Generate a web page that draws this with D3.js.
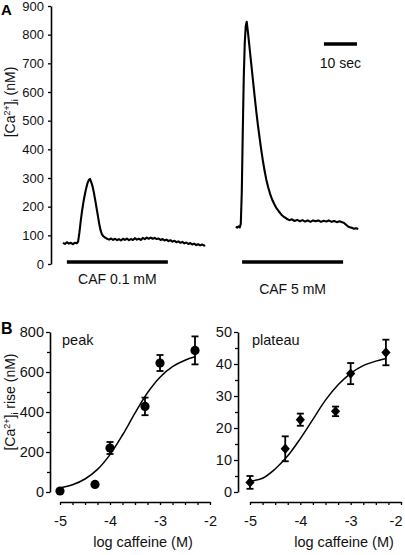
<!DOCTYPE html>
<html><head><meta charset="utf-8">
<script src="https://cdn.jsdelivr.net/npm/d3@7"></script>
<style>
body{margin:0;background:#fff}
svg{display:block;font-family:"Liberation Sans",Arial,sans-serif}
</style></head><body>
<svg id="c" width="405" height="555"></svg>
<script>
// ---------- DATA ----------
// Panel A: traces [time s, [Ca2+]i nM]
const trace1 = [[2.4,74],[3.0,70],[3.6,76],[4.2,71],[4.8,74],[5.4,69],[6.0,74],[6.6,72],[7.0,78],[7.4,110],[7.8,150],[8.2,185],[8.6,215],[9.0,240],[9.4,262],[9.8,280],[10.2,292],[10.6,297],[11.0,285],[11.4,270],[11.8,248],[12.2,222],[12.6,195],[13.0,168],[13.4,140],[13.8,118],[14.2,104],[14.6,97],[15.2,92],[15.8,88],[16.4,85],[17.0,89],[17.6,84],[18.2,88],[18.8,83],[19.4,87],[20.0,82],[20.6,88],[21.2,84],[21.8,89],[22.4,83],[23.0,87],[23.6,84],[24.2,90],[24.8,85],[25.4,88],[26.0,84],[26.6,91],[27.2,87],[27.8,92],[28.4,88],[29.0,92],[29.6,88],[30.2,91],[30.8,87],[31.4,89],[32.0,84],[32.6,87],[33.2,82],[33.8,85],[34.4,80],[35.0,83],[35.6,78],[36.2,81],[36.8,76],[37.4,79],[38.0,74],[38.6,77],[39.2,72],[39.8,75],[40.4,70],[41.0,73],[41.6,68],[42.2,71],[42.8,66],[43.4,69],[44.0,65],[44.6,68],[45.2,64],[45.5,66]];
const trace2 = [[54.8,130],[55.2,127],[55.6,131],[56.0,128],[56.3,140],[56.6,250],[56.9,460],[57.2,650],[57.5,770],[57.8,830],[58.1,845],[58.5,805],[59.0,750],[59.5,695],[60.0,640],[60.5,585],[61.0,532],[61.5,484],[62.0,440],[62.5,398],[63.0,360],[63.5,326],[64.0,296],[64.6,268],[65.2,244],[65.8,225],[66.4,210],[67.0,197],[67.8,184],[68.6,172],[69.4,164],[70.2,158],[71.0,153],[71.8,156],[72.6,150],[73.4,154],[74.2,149],[75.0,153],[75.8,148],[76.6,152],[77.4,147],[78.2,152],[79.0,149],[79.8,152],[80.6,147],[81.4,151],[82.2,148],[83.0,152],[83.8,147],[84.6,150],[85.4,146],[86.2,149],[87.0,146],[87.6,143],[88.2,137],[88.8,131],[89.4,128],[90.0,126],[90.6,123],[91.2,125],[91.9,122]];
const stimuli = [{label:"CAF 0.1 mM", start:3.6, end:34.2},{label:"CAF 5 mM", start:56.7, end:87.3}];
const scaleBarSec = [81.5, 91.5];
const yTicksA = [0,100,200,300,400,500,600,700,800,900];

// Panel B
const logCaf = [-5, -4.3, -4, -3.3, -3, -2.3];
const peakMean = [5, 38, 220, 428, 645, 708];
const peakErr  = [0, 0, 30, 44, 40, 70];
const plateauMean = [3.0, 13.5, 22.6, 25.2, 37.0, 43.6];
const plateauErr  = [2.0, 3.9, 1.9, 1.5, 3.3, 4.0];
const fitX = [-5,-4.75,-4.5,-4.25,-4,-3.75,-3.5,-3.25,-3,-2.75,-2.5,-2.3];
const peakFit = [20,36,65,113,187,285,394,496,574,627,659,676];
const plateauFit = [3.4,4.3,7.2,11.3,16.7,22.7,28.7,33.5,37.1,39.5,40.9,41.7];
const xTickVals = [-5,-4.75,-4.5,-4.25,-4,-3.75,-3.5,-3.25,-3,-2.75,-2.5,-2.25,-2];
const peakTicks = [0,100,200,300,400,500,600,700,800];
const plateauTicks = [0,5,10,15,20,25,30,35,40,45,50];

// ---------- DRAW ----------
const svg = d3.select("#c");
const F = '"Liberation Sans",Arial,sans-serif';

// Panel A
const xA = d3.scaleLinear().domain([0,100]).range([55,385]);
const yA = d3.scaleLinear().domain([0,900]).range([264,6]);

const axA = svg.append("g").attr("transform","translate(51,0)")
  .call(d3.axisLeft(yA).tickValues(yTicksA).tickSize(3).tickSizeOuter(0).tickPadding(4).tickFormat(d=>String(d)));
axA.select(".domain").attr("stroke","#000").attr("stroke-width",1.6);
axA.selectAll(".tick line").attr("stroke","#000").attr("stroke-width",1.3);
axA.selectAll("text").attr("font-size",13).attr("font-family",F).attr("fill","#111");

const lineA = d3.line().x(d=>xA(d[0])).y(d=>yA(d[1]));
[trace1, trace2].forEach(tr=>{
  svg.append("path").attr("d",lineA(tr)).attr("fill","none").attr("stroke","#000")
    .attr("stroke-width",2.1).attr("stroke-linejoin","round");
});

stimuli.forEach((s,i)=>{
  svg.append("line").attr("x1",xA(s.start)).attr("x2",xA(s.end)).attr("y1",262).attr("y2",262)
    .attr("stroke","#000").attr("stroke-width",3.6);
  svg.append("text").attr("x",(xA(s.start)+xA(s.end))/2).attr("y", i===0?284:294)
    .attr("text-anchor","middle").attr("font-size",14).attr("fill","#111").text(s.label);
});
svg.append("line").attr("x1",xA(scaleBarSec[0])).attr("x2",xA(scaleBarSec[1])).attr("y1",44).attr("y2",44)
  .attr("stroke","#000").attr("stroke-width",3.6);
svg.append("text").attr("x",(xA(scaleBarSec[0])+xA(scaleBarSec[1]))/2).attr("y",68)
  .attr("text-anchor","middle").attr("font-size",14).attr("fill","#111").text("10 sec");

svg.append("text").attr("x",1).attr("y",15).attr("font-size",15).attr("font-weight","bold").text("A");
svg.append("text").attr("x",1).attr("y",334).attr("font-size",16).attr("font-weight","bold").text("B");

function caLabel(cx, cy, rest){
  const t = svg.append("text").attr("transform",`translate(${cx},${cy}) rotate(-90)`)
    .attr("text-anchor","middle").attr("font-size",14).attr("fill","#111");
  t.append("tspan").text("[Ca");
  t.append("tspan").attr("font-size",9).attr("dy",-5).text("2+");
  t.append("tspan").attr("dy",5).text("]");
  t.append("tspan").attr("font-size",9).attr("dy",3).text("i");
  t.append("tspan").attr("dy",-3).text(rest);
}
caLabel(15,102," (nM)");
caLabel(15,402," rise (nM)");

// Panel B
function panel(xr, yDom, yr, axisX, yTicks, yMajorStep, means, errs, fit, marker, name, nameX, xLabelX){
  const x = d3.scaleLinear().domain([-5,-2]).range(xr);
  const y = d3.scaleLinear().domain(yDom).range(yr);
  const ay = svg.append("g").attr("transform",`translate(${axisX},0)`)
    .call(d3.axisLeft(y).tickValues(yTicks).tickSize(4).tickSizeOuter(0).tickPadding(2)
      .tickFormat(d=> d % yMajorStep===0 ? String(d) : ""));
  ay.select(".domain").attr("stroke","#000").attr("stroke-width",1.6);
  ay.selectAll(".tick line").attr("stroke","#000").attr("stroke-width",1.3)
    .attr("x2", d=> d % yMajorStep===0 ? -4 : -3);
  ay.selectAll("text").attr("font-size",14.5).attr("font-family",F).attr("fill","#111");
  const ax = svg.append("g").attr("transform","translate(0,502)")
    .call(d3.axisBottom(x).tickValues(xTickVals).tickSize(3).tickSizeOuter(0).tickPadding(11)
      .tickFormat(d=> Number.isInteger(d) ? String(d) : ""));
  ax.select(".domain").attr("stroke","#000").attr("stroke-width",1.6);
  ax.selectAll(".tick line").attr("stroke","#000").attr("stroke-width",1.3);
  ax.selectAll("text").attr("font-size",14.5).attr("font-family",F).attr("fill","#111");
  // keep the last label inside the picture
  ax.selectAll(".tick text").filter(d=>d===-2 && x(d)>395).attr("text-anchor","end").attr("dx",1);
  svg.append("text").attr("x",xLabelX).attr("y",547).attr("text-anchor","middle")
    .attr("font-size",14.5).attr("fill","#111").text("log caffeine (M)");
  svg.append("text").attr("x",nameX).attr("y",345).attr("font-size",14.5).attr("fill","#111").text(name);
  const ln = d3.line().x((d,i)=>x(fitX[i])).y(d=>y(d)).curve(d3.curveCatmullRom);
  svg.append("path").attr("d",ln(fit)).attr("fill","none").attr("stroke","#000").attr("stroke-width",1.5);
  logCaf.forEach((lc,i)=>{
    if(errs[i]<=0) return;
    const cx = x(lc), y1 = y(means[i]+errs[i]), y2 = y(means[i]-errs[i]);
    const g = svg.append("g").attr("stroke","#000").attr("stroke-width",1.8);
    g.append("line").attr("x1",cx).attr("x2",cx).attr("y1",y1).attr("y2",y2);
    g.append("line").attr("x1",cx-3.5).attr("x2",cx+3.5).attr("y1",y1).attr("y2",y1);
    g.append("line").attr("x1",cx-3.5).attr("x2",cx+3.5).attr("y1",y2).attr("y2",y2);
  });
  logCaf.forEach((lc,i)=>{
    const cx = x(lc), cy = y(means[i]);
    if(marker==="circle"){
      svg.append("circle").attr("cx",cx).attr("cy",cy).attr("r",4.6).attr("fill","#000");
    } else {
      svg.append("path").attr("d",`M${cx},${cy-5.2}L${cx+4.6},${cy}L${cx},${cy+5.2}L${cx-4.6},${cy}Z`).attr("fill","#000");
    }
  });
}
panel([60,210],[0,800],[492,332],50,peakTicks,200,peakMean,peakErr,peakFit,"circle","peak",62,143);
panel([250,401],[0,50],[492,332],238,plateauTicks,10,plateauMean,plateauErr,plateauFit,"diamond","plateau",252,344);
</script>
</body></html>
